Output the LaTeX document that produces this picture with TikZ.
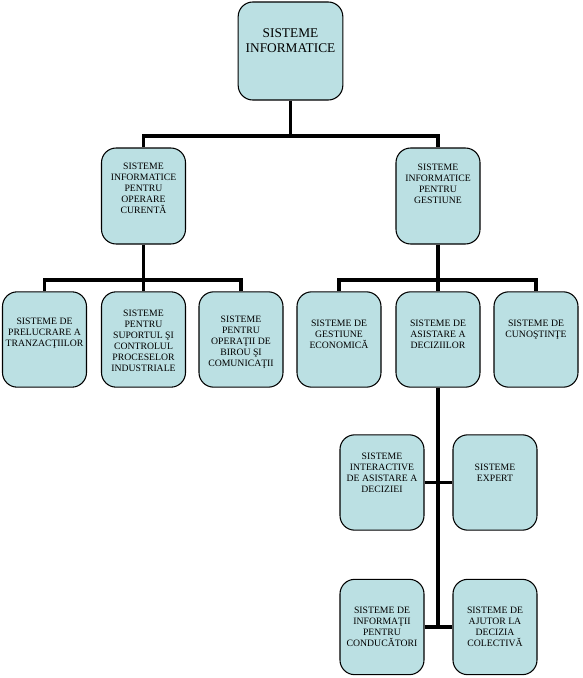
\documentclass[tikz,border=0pt]{standalone}
\usepackage{fontspec}
\setmainfont{Liberation Serif}
\definecolor{boxfill}{RGB}{187,224,227}
\begin{document}
\begin{tikzpicture}[x=0.75pt,y=-0.75pt,
  sbox/.style={draw=black,line width=0.8pt,fill=boxfill,rounded corners=11pt,inner sep=0pt,minimum width=63pt,minimum height=71.5pt},
  rbox/.style={sbox,minimum width=78.5pt,minimum height=73.5pt},
  stxt/.style={align=center,font=\fontsize{7.3}{8.3}\selectfont,inner sep=0pt},
  rtxt/.style={align=center,font=\fontsize{10}{11.3}\selectfont,inner sep=0pt},
  conn/.style={line width=2.3pt}]
\useasboundingbox (0,0) rectangle (582,678);
% boxes
\node[rbox] (root) at (290.5,51) {};
\node[sbox,minimum height=72pt] (ia) at (143.5,196) {};
\node[sbox,minimum height=72pt] (ib) at (438,196) {};
\node[sbox] (a) at (44.5,339.5) {};
\node[sbox] (b) at (143.5,339.5) {};
\node[sbox] (c) at (241,339.5) {};
\node[sbox] (d) at (339,339.5) {};
\node[sbox] (e) at (438,339.5) {};
\node[sbox] (f) at (536,339.5) {};
\node[sbox] (g) at (382,482.5) {};
\node[sbox] (h) at (495,482.5) {};
\node[sbox] (i) at (382,627) {};
\node[sbox] (j) at (495,627) {};
% texts
\node[rtxt] (troot) at (290.5,40.5) {SISTEME\\INFORMATICE};
\node[stxt] (tia) at (143.5,188.5) {SISTEME\\INFORMATICE\\PENTRU\\OPERARE\\CURENTĂ};
\node[stxt] (tib) at (438,183.5) {SISTEME\\INFORMATICE\\PENTRU\\GESTIUNE};
\node[stxt] (ta) at (44.5,333.5) {SISTEME DE\\PRELUCRARE A\\TRANZACŢIILOR};
\node[stxt] (tb) at (143.5,340.5) {SISTEME\\PENTRU\\SUPORTUL ŞI\\CONTROLUL\\PROCESELOR\\INDUSTRIALE};
\node[stxt] (tc) at (241,342) {SISTEME\\PENTRU\\OPERAŢII DE\\BIROU ŞI\\COMUNICAŢII};
\node[stxt] (td) at (339,334.5) {SISTEME DE\\GESTIUNE\\ECONOMICĂ};
\node[stxt] (te) at (438,334.5) {SISTEME DE\\ASISTARE A\\DECIZIILOR};
\node[stxt] (tf) at (536,329.5) {SISTEME DE\\CUNOŞTINŢE};
\node[stxt] (tg) at (382,472.5) {SISTEME\\INTERACTIVE\\DE ASISTARE A\\DECIZIEI};
\node[stxt] (th) at (495,472.5) {SISTEME\\EXPERT};
\node[stxt] (ti) at (382,627) {SISTEME DE\\INFORMAŢII\\PENTRU\\CONDUCĂTORI};
\node[stxt] (tj) at (495,627) {SISTEME DE\\AJUTOR LA\\DECIZIA\\COLECTIVĂ};
% junctions
\coordinate (j0) at (290.5,136);
\coordinate (j1) at (143.5,280);
\coordinate (j2) at (438,280);
\coordinate (j3) at (438,627);
% connectors
\draw[conn] (root.south) -- (j0);
\draw[conn] (j0) -| (ia.north);
\draw[conn] (j0) -| (ib.north);
\draw[conn] (ia.south) -- (j1);
\draw[conn] (j1) -| (a.north);
\draw[conn] (j1) -| (c.north);
\draw[conn] (j1) -- (b.north);
\draw[conn] (ib.south) -- (j2);
\draw[conn] (j2) -| (d.north);
\draw[conn] (j2) -| (f.north);
\draw[conn] (j2) -- (e.north);
\draw[conn] (e.south) -- (j3);
\draw[conn] (g.east) -- (h.west);
\draw[conn] (i.east) -- (j.west);
\end{tikzpicture}
\end{document}
